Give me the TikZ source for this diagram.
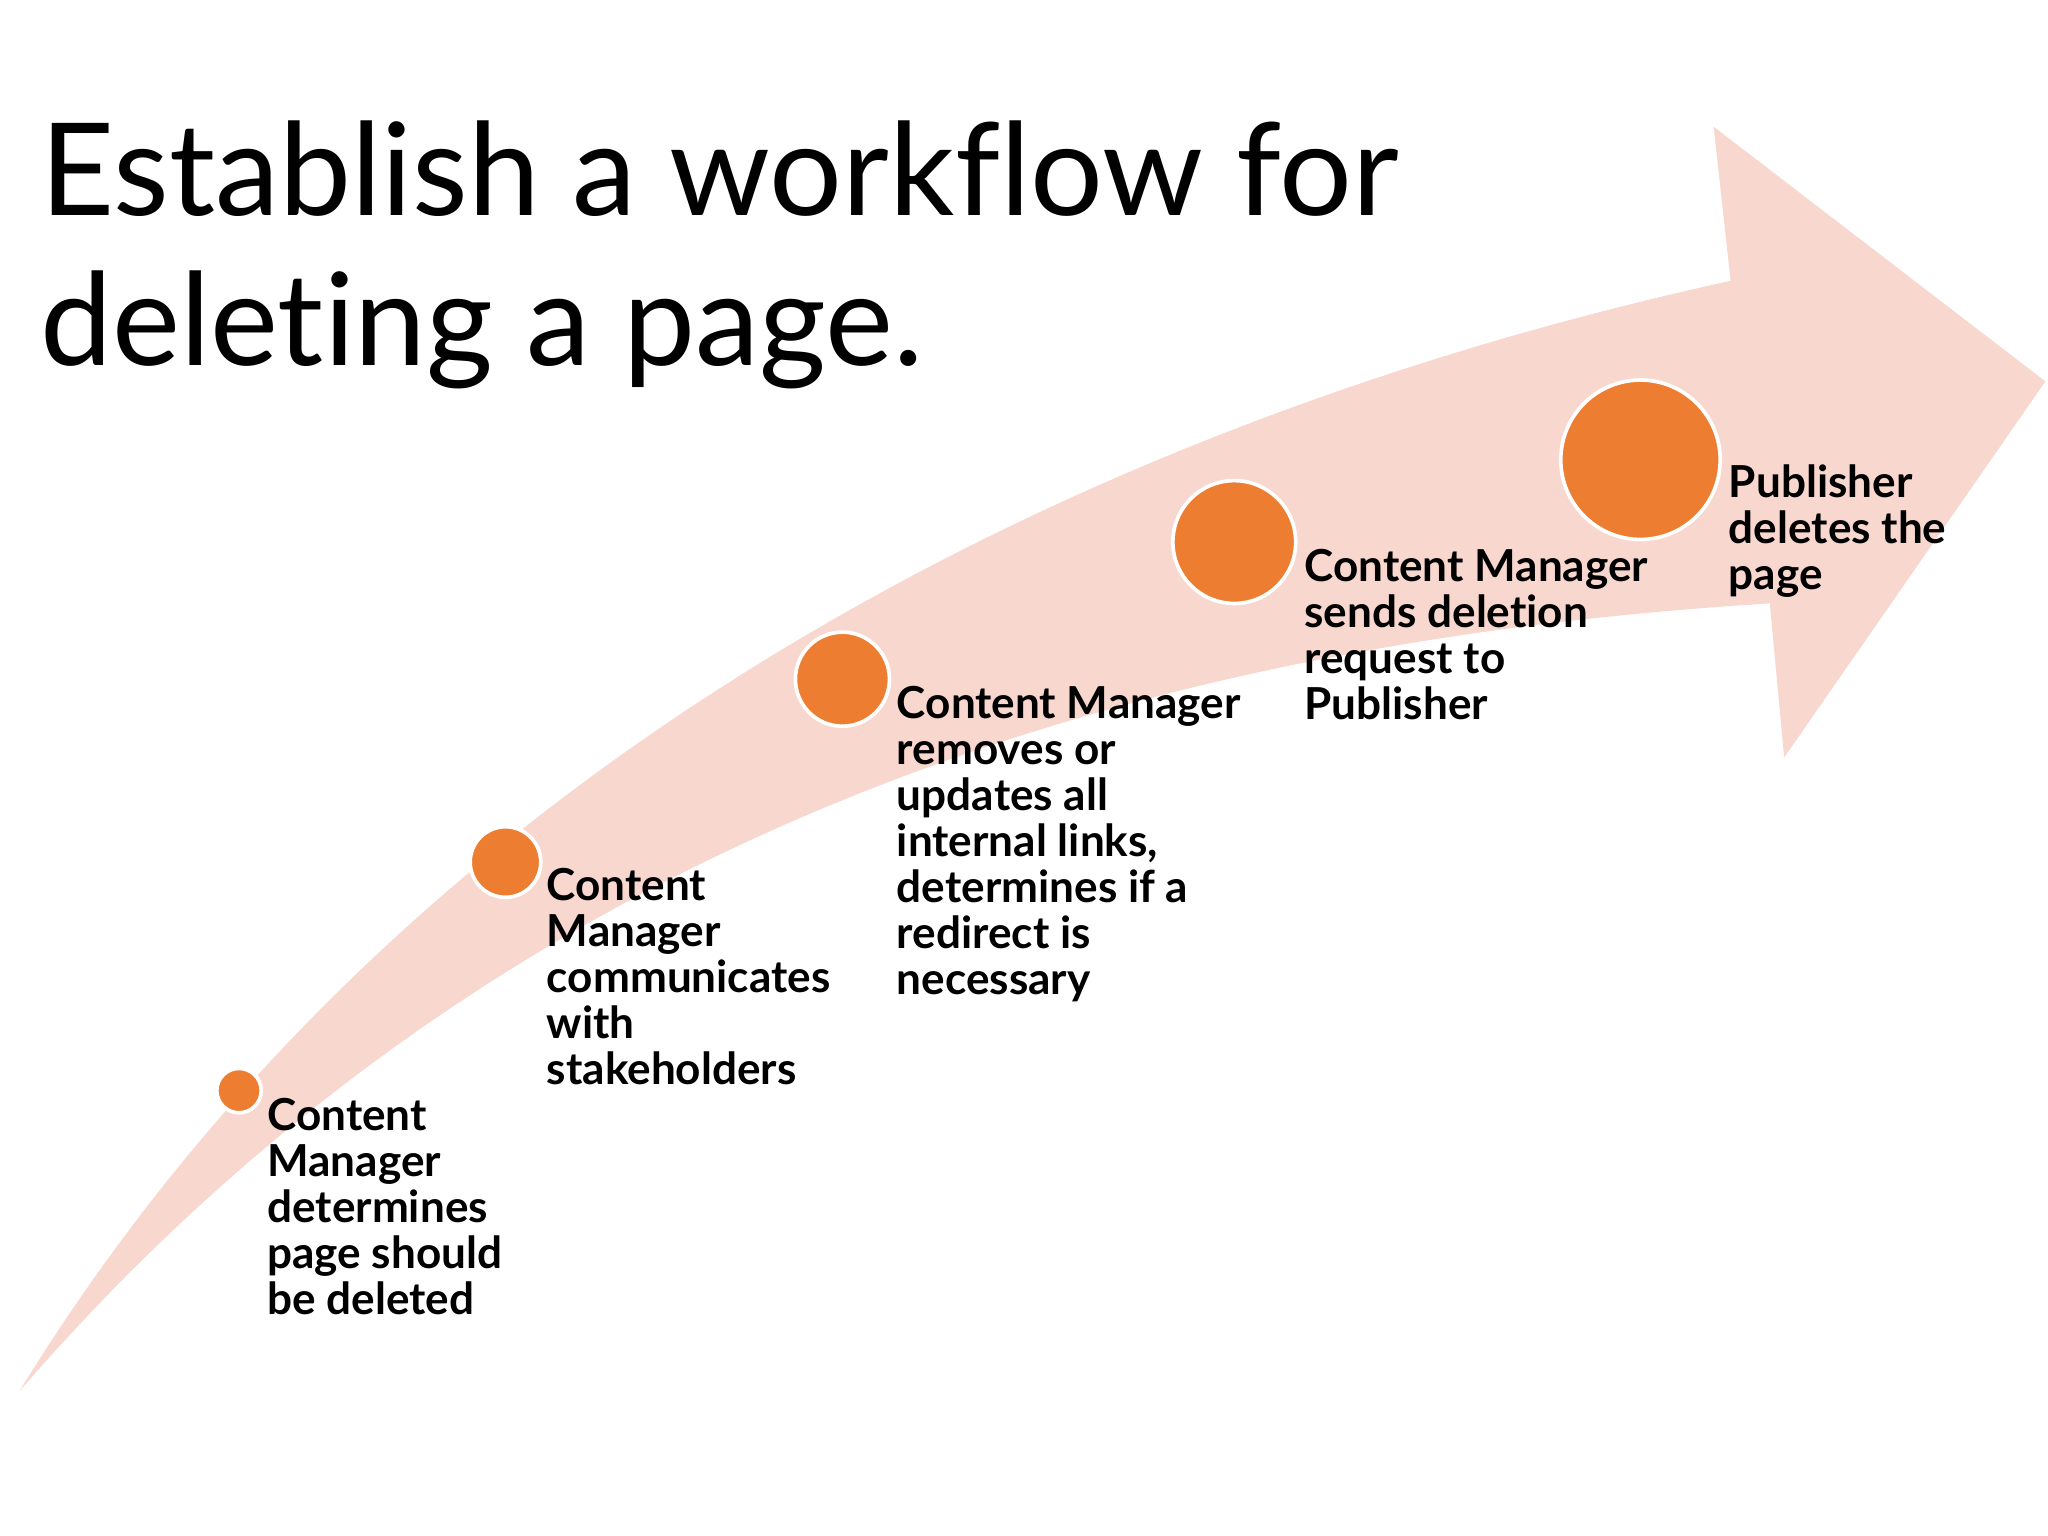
\documentclass[tikz,border=0pt]{standalone}
\usepackage{fontspec}
\setmainfont{Lato}[Ligatures={NoCommon,NoRare,NoDiscretionary}]
\begin{document}
\begin{tikzpicture}[x=0.01cm,y=-0.01cm,
  dot/.style={circle,draw=white,line width=0.8pt,inner sep=0pt},
  lbl/.style={anchor=north west,align=left,font=\fontsize{9.6}{10}\selectfont\bfseries,inner sep=0pt}]
\useasboundingbox (0,0) rectangle (1568,1176);
\definecolor{arr}{HTML}{F8D7CF}
\definecolor{dotc}{HTML}{ED7D31}
\fill[arr] (15,1065) .. controls (300,600) and (800,330) .. (1325,215)
  -- (1312,97) -- (1566,292) -- (1366,580) -- (1355,462)
  .. controls (900,490) and (400,620) .. (15,1065) -- cycle;
\node[anchor=north west,inner sep=0pt,font=\fontsize{28}{32.5}\selectfont,align=left] (t) at (30,92) {Establish a workflow for\\deleting a page.};
\node[dot,fill=dotc,minimum size=0.34cm] (c1) at (183,835) {};
\node[dot,fill=dotc,minimum size=0.54cm] (c2) at (387,660) {};
\node[dot,fill=dotc,minimum size=0.72cm] (c3) at (645,520) {};
\node[dot,fill=dotc,minimum size=0.94cm] (c4) at (945,415) {};
\node[dot,fill=dotc,minimum size=1.22cm] (c5) at (1256,352) {};
\node[lbl] (l1) at (204,840) {Content\\Manager\\determines\\page should\\be deleted};
\node[lbl] (l2) at (418,664) {Content\\Manager\\communicates\\with\\stakeholders};
\node[lbl] (l3) at (686,525) {Content Manager\\removes or\\updates all\\internal links,\\determines if a\\redirect is\\necessary};
\node[lbl] (l4) at (998,420) {Content Manager\\sends deletion\\request to\\Publisher};
\node[lbl] (l5) at (1323,355) {Publisher\\deletes the\\page};
\end{tikzpicture}
\end{document}
